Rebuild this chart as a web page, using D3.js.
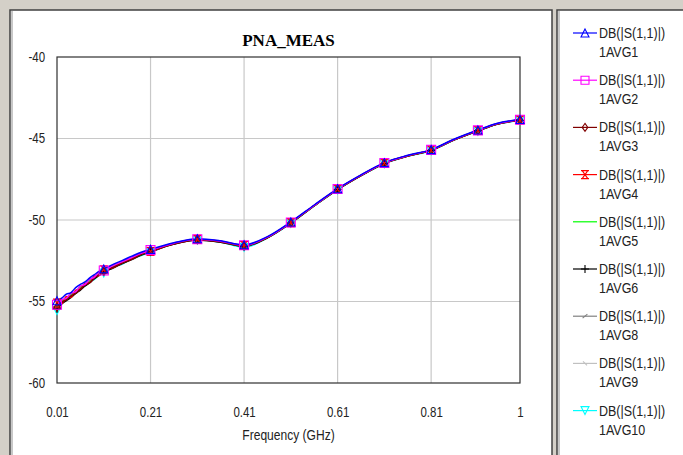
<!DOCTYPE html>
<html><head><meta charset="utf-8">
<script src="https://cdn.jsdelivr.net/npm/d3@7"></script>
<style>body{margin:0;background:#d4d0c8;}svg{display:block;}</style>
</head><body>
<script>
const freqs = [0.01,0.02,0.03,0.04,0.05,0.06,0.07,0.08,0.09,0.10,0.11,0.13,0.15,0.17,0.19,0.21,0.26,0.31,0.36,0.41,0.46,0.51,0.56,0.61,0.66,0.71,0.76,0.81,0.86,0.91,0.95,1.0];
const markerFreqs = [0.01,0.11,0.21,0.31,0.41,0.51,0.61,0.71,0.81,0.91,1.0];
const xTicks = [0.01,0.21,0.41,0.61,0.81,1];
const yTicks = [-40,-45,-50,-55,-60];
const seriesNames = ["1AVG1","1AVG2","1AVG3","1AVG4","1AVG5","1AVG6","1AVG8","1AVG9","1AVG10"];
const avg1 = [-54.95,-54.8,-54.55,-54.45,-54.15,-53.95,-53.8,-53.55,-53.35,-53.15,-53.0,-52.72,-52.48,-52.22,-51.98,-51.8,-51.4,-51.15,-51.28,-51.52,-51.02,-50.12,-49.08,-48.08,-47.23,-46.48,-46.03,-45.68,-45.03,-44.48,-44.08,-43.83];
const avg2 = [-55.2,-54.9,-54.8,-54.5,-54.4,-54.05,-53.95,-53.65,-53.5,-53.2,-53.1,-52.8,-52.55,-52.3,-52.05,-51.85,-51.42,-51.18,-51.3,-51.55,-51.05,-50.15,-49.1,-48.1,-47.25,-46.5,-46.05,-45.7,-45.05,-44.5,-44.1,-43.85];
const avg3 = [-55.35,-55.05,-54.9,-54.65,-54.5,-54.25,-54.0,-53.85,-53.55,-53.35,-53.15,-52.9,-52.65,-52.4,-52.12,-51.92,-51.47,-51.22,-51.35,-51.6,-51.08,-50.17,-49.12,-48.12,-47.27,-46.52,-46.07,-45.72,-45.07,-44.52,-44.12,-43.87];
const avg4 = [-55.1,-55.15,-54.7,-54.75,-54.3,-54.25,-53.9,-53.85,-53.45,-53.4,-53.05,-52.92,-52.55,-52.4,-52.05,-51.93,-51.43,-51.19,-51.31,-51.56,-51.06,-50.16,-49.11,-48.11,-47.26,-46.51,-46.06,-45.71,-45.06,-44.51,-44.11,-43.86];
const avg5 = [-55.25,-54.95,-54.8,-54.55,-54.4,-54.1,-53.95,-53.7,-53.5,-53.25,-53.1,-52.8,-52.6,-52.3,-52.1,-51.88,-51.44,-51.2,-51.32,-51.57,-51.07,-50.16,-49.12,-48.12,-47.26,-46.51,-46.06,-45.71,-45.06,-44.51,-44.11,-43.86];
const avg6 = [-55.45,-55.15,-54.95,-54.75,-54.5,-54.3,-54.05,-53.85,-53.6,-53.4,-53.18,-52.95,-52.66,-52.42,-52.15,-51.95,-51.48,-51.23,-51.36,-51.62,-51.09,-50.18,-49.13,-48.13,-47.28,-46.53,-46.08,-45.73,-45.08,-44.53,-44.13,-43.88];
const avg8 = [-55.3,-55.1,-54.85,-54.7,-54.45,-54.22,-54.0,-53.8,-53.58,-53.33,-53.14,-52.9,-52.63,-52.38,-52.12,-51.91,-51.46,-51.21,-51.34,-51.6,-51.08,-50.17,-49.12,-48.12,-47.27,-46.52,-46.07,-45.72,-45.07,-44.52,-44.12,-43.87];
const avg9 = [-55.2,-55.0,-54.75,-54.6,-54.35,-54.15,-53.9,-53.7,-53.5,-53.28,-53.1,-52.82,-52.58,-52.33,-52.08,-51.88,-51.44,-51.2,-51.32,-51.57,-51.06,-50.16,-49.11,-48.11,-47.26,-46.51,-46.06,-45.71,-45.06,-44.51,-44.11,-43.86];
const avg10 = [-55.55,-54.9,-54.9,-54.5,-54.5,-54.1,-54.05,-53.7,-53.65,-53.3,-53.25,-52.85,-52.7,-52.35,-52.18,-51.97,-51.45,-51.23,-51.36,-51.68,-51.09,-50.2,-49.13,-48.15,-47.28,-46.55,-46.08,-45.75,-45.08,-44.55,-44.13,-43.9];
const seriesValues = [avg1,avg2,avg3,avg4,avg5,avg6,avg8,avg9,avg10];
const colors = ["#0000ff","#ff00ff","#800000","#ff0000","#00ff00","#000000","#808080","#c0c0c0","#00ffff"];
const markers = ["triUp","square","diamond","hourglass","none","plus","slash","xsmall","triDown"];

const W=683,H=455;
const FONT="Liberation Sans, Arial";
const svg=d3.select("body").append("svg").attr("width",W).attr("height",H);
svg.append("rect").attr("width",W).attr("height",H).attr("fill","#d4d0c8");
// main panel
svg.append("rect").attr("x",10).attr("y",10).attr("width",542).attr("height",446).attr("fill","#fff").attr("stroke","#404040").attr("stroke-width",1.5);
svg.append("line").attr("x1",12).attr("x2",12).attr("y1",11).attr("y2",455).attr("stroke","#909090");
// legend panel
svg.append("rect").attr("x",557).attr("y",10).attr("width",130).attr("height",446).attr("fill","#fff").attr("stroke","#404040").attr("stroke-width",1.5);
svg.append("line").attr("x1",559).attr("x2",559).attr("y1",11).attr("y2",455).attr("stroke","#909090");

const x=d3.scaleLinear().domain([0.01,1]).range([57,520]);
const y=d3.scaleLinear().domain([-60,-40]).range([383,57]);

const g=svg.append("g");
g.selectAll(".gx").data(xTicks.slice(1,-1)).join("line").attr("x1",d=>x(d)).attr("x2",d=>x(d)).attr("y1",y(-40)).attr("y2",y(-60)).attr("stroke","#c8c8c8").attr("stroke-width",1.2);
g.selectAll(".gy").data(yTicks.slice(1,-1)).join("line").attr("y1",d=>y(d)).attr("y2",d=>y(d)).attr("x1",x(0.01)).attr("x2",x(1)).attr("stroke","#c8c8c8").attr("stroke-width",1.2);
g.append("rect").attr("x",x(0.01)).attr("y",y(-40)).attr("width",x(1)-x(0.01)).attr("height",y(-60)-y(-40)).attr("fill","none").attr("stroke","#303030").attr("stroke-width",1.2);

function condense(sel,f){
  sel.each(function(){const L=this.getComputedTextLength();d3.select(this).attr("textLength",L*f).attr("lengthAdjust","spacingAndGlyphs");});
}

const xa=svg.append("g").attr("transform",`translate(0,${y(-60)+21})`).call(d3.axisBottom(x).tickValues(xTicks).tickSize(0).tickFormat(d=>String(d)));
xa.select(".domain").remove();
const ya=svg.append("g").attr("transform",`translate(${x(0.01)-9},0)`).call(d3.axisLeft(y).tickValues(yTicks).tickSize(0).tickFormat(d=>String(d)));
ya.select(".domain").remove();
svg.selectAll(".tick text").attr("font-family",FONT).attr("font-size",14).attr("fill","#222");
condense(svg.selectAll(".tick text"),0.82);

const xl=svg.append("text").attr("x",(x(0.01)+x(1))/2).attr("y",440).attr("text-anchor","middle").attr("font-family",FONT).attr("font-size",14).attr("fill","#222").text("Frequency (GHz)");
condense(xl,0.86);
svg.append("text").attr("x",(x(0.01)+x(1))/2).attr("y",46).attr("text-anchor","middle").attr("font-family","Liberation Serif, Times New Roman").attr("font-weight","bold").attr("font-size",17).attr("fill","#000").text("PNA_MEAS");

function drawMarker(sel,type,cx,cy,color,s){
  const h=s/2;
  let p=null;
  if(type==="triUp") p=`M${cx},${cy-h}L${cx+h},${cy+h}L${cx-h},${cy+h}Z`;
  else if(type==="triDown") p=`M${cx},${cy+h}L${cx+h},${cy-h}L${cx-h},${cy-h}Z`;
  else if(type==="square") p=`M${cx-h},${cy-h}h${s}v${s}h${-s}Z`;
  else if(type==="diamond") p=`M${cx},${cy-h}L${cx+h*0.7},${cy}L${cx},${cy+h}L${cx-h*0.7},${cy}Z`;
  else if(type==="hourglass") p=`M${cx-h},${cy-h}H${cx+h}M${cx-h},${cy+h}H${cx+h}M${cx-h*0.7},${cy-h}L${cx+h*0.7},${cy+h}M${cx+h*0.7},${cy-h}L${cx-h*0.7},${cy+h}`;
  else if(type==="plus") p=`M${cx-h},${cy}H${cx+h}M${cx},${cy-h}V${cy+h}`;
  else if(type==="slash") p=`M${cx-h*0.6},${cy+h*0.5}L${cx+h*0.6},${cy-h*0.5}`;
  else if(type==="xsmall") p=`M${cx-h*0.5},${cy-h*0.5}L${cx+h*0.5},${cy+h*0.5}`;
  if(p) sel.append("path").attr("d",p).attr("fill","none").attr("stroke",color).attr("stroke-width",1.1);
}

const line=d3.line().x(d=>x(d[0])).y(d=>y(d[1])).curve(d3.curveMonotoneX);
const plot=svg.append("g");
for(let i=seriesValues.length-1;i>=0;i--){
  const pts=freqs.map((f,j)=>[f,seriesValues[i][j]]);
  plot.append("path").attr("d",line(pts)).attr("fill","none").attr("stroke",colors[i]).attr("stroke-width",1.5);
}
for(let i=seriesValues.length-1;i>=0;i--){
  markerFreqs.forEach(f=>{
    const j=freqs.indexOf(f);
    const sz = markers[i]==="square"?9:8;
    drawMarker(plot,markers[i],x(f),y(seriesValues[i][j]),colors[i],sz);
  });
}

const leg=svg.append("g");
seriesNames.forEach((n,i)=>{
  const ly=33+i*47.2;
  leg.append("line").attr("x1",573).attr("x2",597).attr("y1",ly).attr("y2",ly).attr("stroke",colors[i]).attr("stroke-width",1.2);
  drawMarker(leg,markers[i],585,ly,colors[i],8);
  const t1=leg.append("text").attr("x",599).attr("y",ly+5).attr("font-family",FONT).attr("font-size",14.5).attr("fill","#222").text("DB(|S(1,1)|)");
  const t2=leg.append("text").attr("x",599).attr("y",ly+24).attr("font-family",FONT).attr("font-size",14.5).attr("fill","#222").text(n);
  condense(t1,0.86); condense(t2,0.86);
});
</script>
</body></html>
